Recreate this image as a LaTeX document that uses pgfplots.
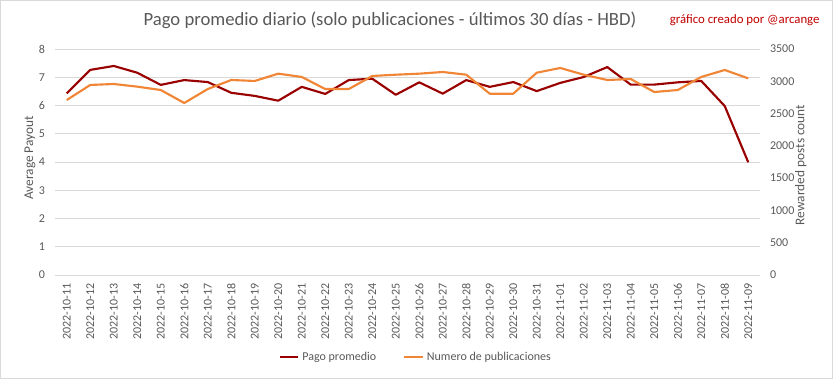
\documentclass[border=0pt]{standalone}
\usepackage{pgfplots}
\pgfplotsset{compat=1.18}
\usepackage{pgfplotstable}
\usepackage{fontspec}
\setmainfont{Carlito}
\definecolor{txtgray}{HTML}{595959}
\definecolor{gridgray}{HTML}{D9D9D9}
\definecolor{darkred}{HTML}{990000}
\definecolor{lorange}{HTML}{F08536}
\definecolor{annred}{HTML}{C00000}

\pgfplotstableread{
x pago num
0 6.43 2710
1 7.26 2943
2 7.40 2958
3 7.16 2917
4 6.73 2865
5 6.90 2664
6 6.83 2880
7 6.45 3020
8 6.34 3005
9 6.17 3118
10 6.66 3067
11 6.41 2880
12 6.90 2880
13 6.95 3082
14 6.38 3102
15 6.82 3118
16 6.42 3144
17 6.90 3102
18 6.66 2808
19 6.83 2808
20 6.51 3133
21 6.80 3206
22 7.01 3102
23 7.36 3020
24 6.74 3035
25 6.74 2834
26 6.82 2865
27 6.87 3067
28 5.98 3175
29 3.99 3045
}\datatable

\begin{document}
\begin{tikzpicture}[x=1pt,y=1pt]
\useasboundingbox (0,0) rectangle (624.75,284.25);
\draw[gridgray, line width=0.75pt] (0.4,0.4) rectangle (624.35,283.85);

\begin{axis}[
  at={(41.25pt,78pt)}, anchor=south west,
  scale only axis, width=528.75pt, height=169.5pt,
  xmin=-0.5, xmax=29.5, ymin=0, ymax=8,
  ytick={0,1,...,8},
  xtick={0,...,29},
  xticklabels={2022-10-11,2022-10-12,2022-10-13,2022-10-14,2022-10-15,2022-10-16,2022-10-17,2022-10-18,2022-10-19,2022-10-20,2022-10-21,2022-10-22,2022-10-23,2022-10-24,2022-10-25,2022-10-26,2022-10-27,2022-10-28,2022-10-29,2022-10-30,2022-10-31,2022-11-01,2022-11-02,2022-11-03,2022-11-04,2022-11-05,2022-11-06,2022-11-07,2022-11-08,2022-11-09},
  xticklabel style={rotate=90, anchor=east, font=\fontsize{9}{10}\selectfont, text=txtgray, yshift=0pt, xshift=-3pt},
  yticklabel style={font=\fontsize{9}{10}\selectfont, text=txtgray, xshift=-4pt},
  /pgf/number format/assume math mode=true,
  axis line style={draw=none},
  major tick style={draw=none},
  ymajorgrids, grid style={gridgray, line width=0.75pt},
  ylabel={Average Payout},
  ylabel style={at={(axis description cs:-0.0355,0.518)}, anchor=center, rotate=0, font=\fontsize{10}{12}\selectfont, text=txtgray},
  legend style={at={(axis description cs:0.512,-0.363)}, anchor=center, draw=none, legend columns=2, font=\fontsize{9}{10}\selectfont, text=txtgray, /tikz/every even column/.append style={column sep=18pt}},
  legend image code/.code={\draw[#1, line width=2pt] (0pt,0pt) -- (14pt,0pt);},
]
\addplot[darkred, line width=1.6pt, line join=round] table[x=x, y=pago] {\datatable};
\addlegendentry{Pago promedio}
\addlegendimage{lorange, line width=1.6pt}
\addlegendentry{Numero de publicaciones}
\end{axis}

\begin{axis}[
  at={(41.25pt,78pt)}, anchor=south west,
  scale only axis, width=528.75pt, height=169.5pt,
  xmin=-0.5, xmax=29.5, ymin=0, ymax=3500,
  axis x line=none,
  axis y line*=right,
  axis line style={draw=none},
  major tick style={draw=none},
  ytick={0,500,...,3500},
  yticklabel style={font=\fontsize{9}{10}\selectfont, text=txtgray, xshift=4pt},
  /pgf/number format/assume math mode=true,
  /pgf/number format/1000 sep={},
  ylabel={Rewarded posts count},
  ylabel style={at={(axis description cs:1.058,0.487)}, anchor=center, rotate=0, font=\fontsize{10}{12}\selectfont, text=txtgray},
]
\addplot[lorange, line width=1.6pt, line join=round] table[x=x, y=num] {\datatable};
\end{axis}

\node[text=txtgray, font=\fontsize{14}{16}\selectfont] at (292.5,269) {Pago promedio diario (solo publicaciones - últimos 30 días - HBD)};
\node[text=annred, font=\fontsize{9.6}{11}\selectfont] at (558.5,269.5) {gráfico creado por @arcange};
\end{tikzpicture}
\end{document}
